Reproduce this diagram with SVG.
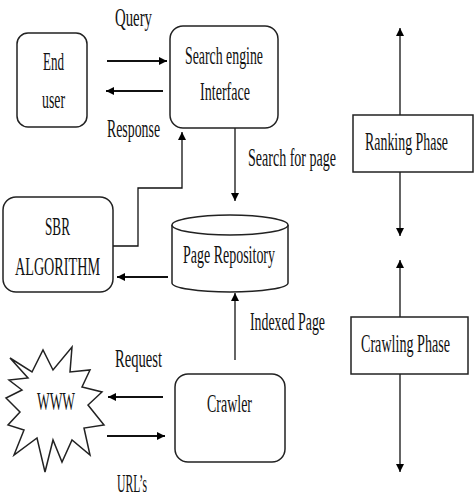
<svg xmlns="http://www.w3.org/2000/svg" width="475" height="497" viewBox="0 0 475 497">
<defs>
<marker id="ah" viewBox="0 0 10 10" refX="10" refY="5" markerWidth="10" markerHeight="8" markerUnits="userSpaceOnUse" orient="auto"><path d="M0,0 L10,5 L0,10 z" fill="#000"/></marker>
<style>
text{font-family:"Liberation Serif","Times New Roman",serif;font-size:25px;fill:#111}
.box{fill:#fff;stroke:#222;stroke-width:1.5}
.c{fill:none;stroke:#111;stroke-width:1.3;marker-end:url(#ah)}
.h{fill:none;stroke:#111;stroke-width:2;marker-end:url(#ah)}
</style>
</defs>
<rect width="475" height="497" fill="#fff"/>
<g id="connectors">
<line class="h" x1="107" y1="61" x2="167" y2="61"/>
<line class="h" x1="163" y1="91" x2="106" y2="91"/>
<line class="c" x1="235" y1="128" x2="235" y2="201"/>
<polyline class="c" points="113,246 138,246 138,188 182,188 182,132"/>
<line class="h" x1="168" y1="277" x2="117" y2="277"/>
<line class="c" x1="235" y1="360" x2="235" y2="293"/>
<line class="h" x1="163" y1="397" x2="108" y2="397"/>
<line class="h" x1="107" y1="436" x2="165" y2="436"/>
<line class="c" x1="400" y1="115" x2="400" y2="28"/>
<line class="c" x1="400" y1="172" x2="400" y2="236"/>
<line class="c" x1="400" y1="317" x2="400" y2="260"/>
<line class="c" x1="400" y1="374" x2="400" y2="472"/>
<text transform="translate(115,26) scale(0.55,1)" textLength="67.3" lengthAdjust="spacingAndGlyphs">Query</text>
<text transform="translate(107,137) scale(0.55,1)" textLength="96.4" lengthAdjust="spacingAndGlyphs">Response</text>
<text transform="translate(248,166) scale(0.55,1)" textLength="160" lengthAdjust="spacingAndGlyphs">Search for page</text>
<text transform="translate(250,330) scale(0.55,1)" textLength="136.4" lengthAdjust="spacingAndGlyphs">Indexed Page</text>
<text transform="translate(115,367) scale(0.55,1)" textLength="85.5" lengthAdjust="spacingAndGlyphs">Request</text>
<text transform="translate(117,492) scale(0.55,1)" textLength="54.5" lengthAdjust="spacingAndGlyphs">URL’s</text>
</g>
<g id="end-user">
<rect class="box" x="17" y="33" width="70" height="94" rx="11"/>
<text transform="translate(43,70) scale(0.55,1)" textLength="38.2" lengthAdjust="spacingAndGlyphs">End</text>
<text transform="translate(42,108) scale(0.55,1)" textLength="41.8" lengthAdjust="spacingAndGlyphs">user</text>
</g>
<g id="search-engine">
<rect class="box" x="170" y="26" width="108" height="102" rx="13"/>
<text transform="translate(185,64) scale(0.55,1)" textLength="141.8" lengthAdjust="spacingAndGlyphs">Search engine</text>
<text transform="translate(200,100) scale(0.55,1)" textLength="90.9" lengthAdjust="spacingAndGlyphs">Interface</text>
</g>
<g id="sbr">
<rect class="box" x="3" y="197" width="110" height="95" rx="13"/>
<text transform="translate(45,235) scale(0.55,1)" textLength="45.5" lengthAdjust="spacingAndGlyphs">SBR</text>
<text transform="translate(15,275) scale(0.55,1)" textLength="154.5" lengthAdjust="spacingAndGlyphs">ALGORITHM</text>
</g>
<g id="page-repository">
<path class="box" d="M172,225 L172,283 A58,9 0 0 0 288,283 L288,225"/>
<ellipse class="box" cx="230" cy="225" rx="58" ry="10"/>
<text transform="translate(183,263) scale(0.55,1)" textLength="167.3" lengthAdjust="spacingAndGlyphs">Page Repository</text>
</g>
<g id="crawler">
<rect class="box" x="175" y="374" width="110" height="88" rx="13"/>
<text transform="translate(207,412) scale(0.55,1)" textLength="81.8" lengthAdjust="spacingAndGlyphs">Crawler</text>
</g>
<g id="www">
<polygon class="box" stroke-width="1.2" points="10,358 32,372 43,350 53,370 72,347 70,372 90,370 82,387 102,392 88,405 104,425 84,428 90,455 72,440 62,462 53,440 45,472 37,438 14,455 24,430 8,425 20,412 6,398 22,390 9,380 28,378"/>
<text transform="translate(37,410) scale(0.55,1)" textLength="69.1" lengthAdjust="spacingAndGlyphs">WWW</text>
</g>
<g id="ranking-phase">
<rect class="box" x="353" y="115" width="120" height="57"/>
<text transform="translate(365,150) scale(0.55,1)" textLength="150.9" lengthAdjust="spacingAndGlyphs">Ranking Phase</text>
</g>
<g id="crawling-phase">
<rect class="box" x="351" y="317" width="117" height="57"/>
<text transform="translate(361,352) scale(0.55,1)" textLength="161.8" lengthAdjust="spacingAndGlyphs">Crawling Phase</text>
</g>
</svg>
